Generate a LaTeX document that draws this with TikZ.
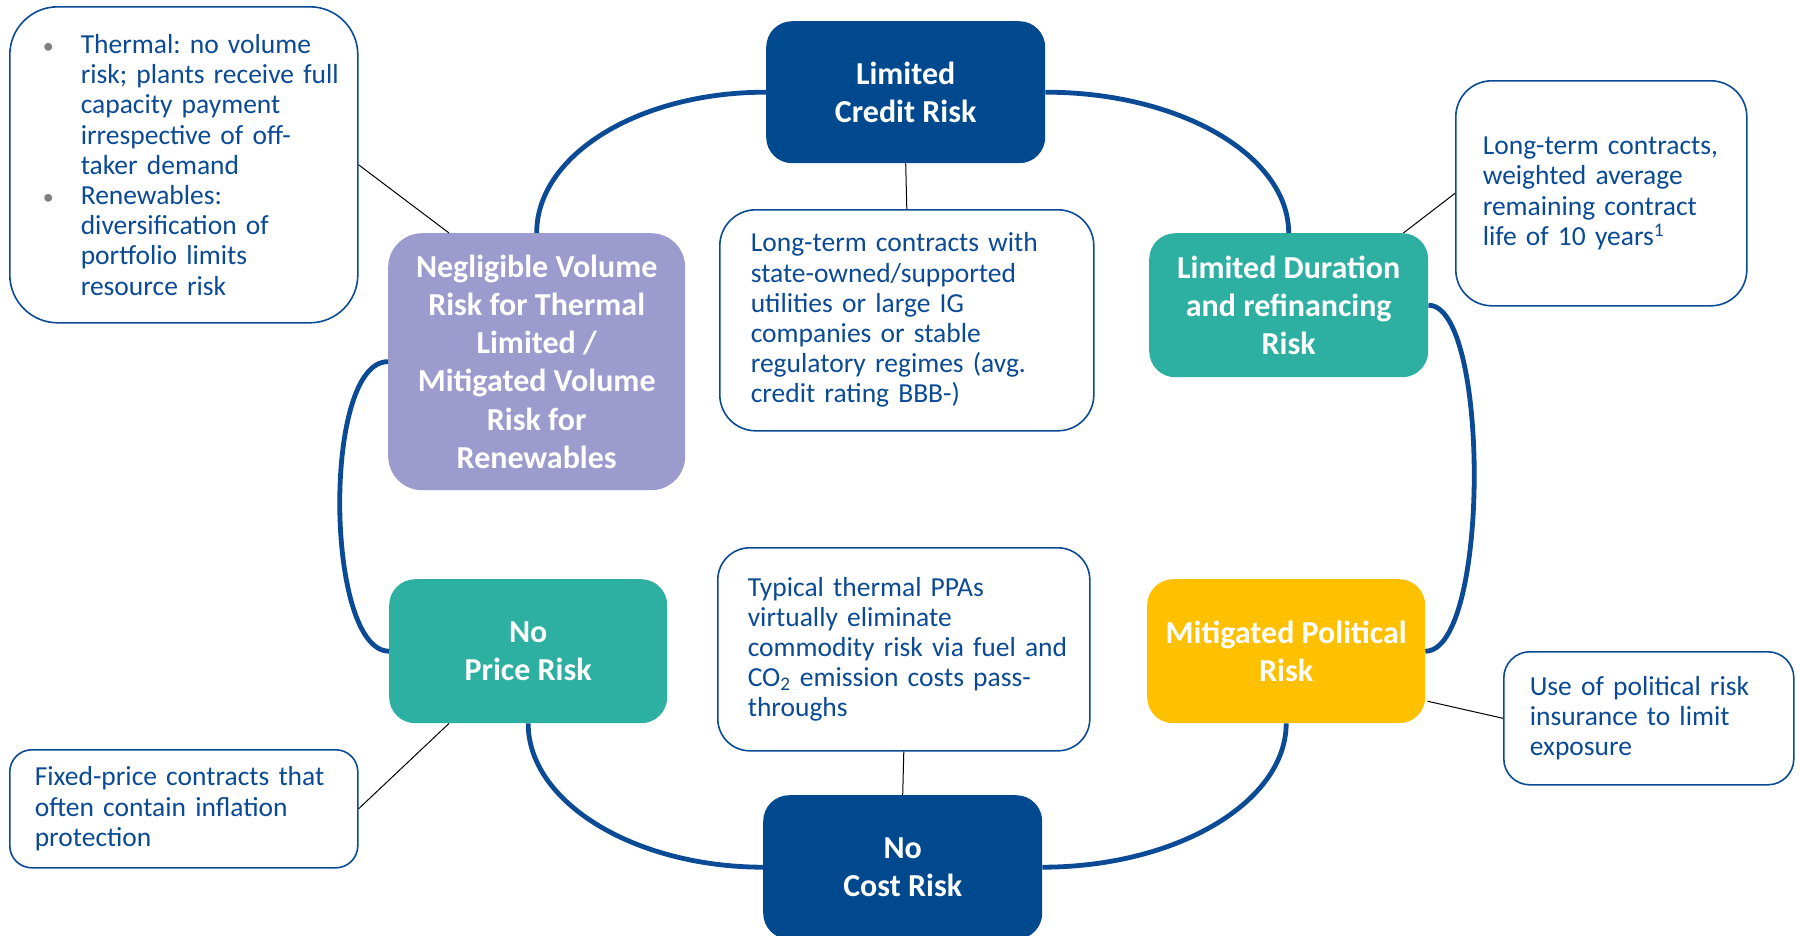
\documentclass[tikz,border=0pt]{standalone}
\usepackage{fontspec}
\setmainfont{Carlito}
\frenchspacing
\usetikzlibrary{calc}
\definecolor{navy}{HTML}{00498F}
\definecolor{teal2}{HTML}{2DAFA2}
\definecolor{lav}{HTML}{9B9BCD}
\definecolor{gold}{HTML}{FFC000}
\definecolor{txtblue}{HTML}{0B4A94}
\definecolor{arcblue}{HTML}{0B4A94}
\definecolor{bulgrey}{HTML}{7F7F7F}
\tikzset{
  riskbox/.style={rectangle, rounded corners=26pt, draw=none, text=white, align=center,
    font=\fontsize{32}{38.3}\selectfont\bfseries\frenchspacing, inner sep=0pt, anchor=north west},
  notebox/.style={rectangle, draw=txtblue, line width=1.6pt, fill=white, text=txtblue,
    align=left, font=\fontsize{27.5}{30.2}\selectfont\frenchspacing, inner ysep=0pt, anchor=north west},
  loop/.style={draw=arcblue, line width=4.8pt},
  tie/.style={draw=black, line width=1pt},
}
\newcommand{\bul}{\makebox[38pt][l]{\textcolor{bulgrey}{\fontsize{22}{30}\selectfont\textbullet}}}
\newcommand{\oneline}[1]{\mbox{#1}}
\begin{document}
\begin{tikzpicture}[x=1pt,y=-1pt]
\useasboundingbox (0,0) rectangle (1800,935);
% risk boxes
\node[riskbox, fill=navy, minimum width=279pt, minimum height=142pt] (credit) at (766,21) {Limited\\Credit Risk};
\node[riskbox, fill=lav, minimum width=297pt, minimum height=257pt, rounded corners=34pt] (neg) at (388,233) {Negligible Volume\\Risk for Thermal\\Limited /\\Mitigated Volume\\Risk for\\Renewables};
\node[riskbox, fill=teal2, minimum width=279pt, minimum height=144pt] (dur) at (1149,233) {Limited Duration\\and refinancing\\Risk};
\node[riskbox, fill=teal2, minimum width=278pt, minimum height=144pt] (price) at (389,579) {No\\Price Risk};
\node[riskbox, fill=gold, minimum width=278pt, minimum height=144pt] (pol) at (1147,579) {Mitigated Political\\Risk};
\node[riskbox, fill=navy, minimum width=279pt, minimum height=144pt] (cost) at (763,795) {No\\Cost Risk};
% note boxes
\node[notebox, rounded corners=48pt, minimum width=348pt, minimum height=316pt, text width=318pt, inner xsep=15pt] (vnote) at (9,6)
 {\hspace*{18pt}\bul\oneline{Thermal: no volume}\\
  \hspace*{56pt}\oneline{risk; plants receive full}\\
  \hspace*{56pt}\oneline{capacity payment}\\
  \hspace*{56pt}\oneline{irrespective of off-}\\
  \hspace*{56pt}\oneline{taker demand}\\
  \hspace*{18pt}\bul\oneline{Renewables:}\\
  \hspace*{56pt}\oneline{diversification of}\\
  \hspace*{56pt}\oneline{portfolio limits}\\
  \hspace*{56pt}\oneline{resource risk}};
\node[notebox, rounded corners=36pt, minimum width=374pt, minimum height=221pt, text width=312pt, inner xsep=31pt] (cnote) at (719,209)
 {\oneline{Long-term contracts with}\\\oneline{state-owned/supported}\\\oneline{utilities or large IG}\\\oneline{companies or stable}\\\oneline{regulatory regimes (avg.}\\\oneline{credit rating BBB-)}};
\node[notebox, rounded corners=36pt, minimum width=291pt, minimum height=225pt, text width=237pt, inner xsep=27pt] (dnote) at (1455,80)
 {\oneline{Long-term contracts,}\\\oneline{weighted average}\\\oneline{remaining contract}\\\oneline{life of 10 years\textsuperscript{1}}};
\node[notebox, rounded corners=32pt, minimum width=372pt, minimum height=203pt, text width=312pt, inner xsep=30pt] (pnote) at (717,547)
 {\oneline{Typical thermal PPAs}\\\oneline{virtually eliminate}\\\oneline{commodity risk via fuel and}\\\oneline{CO\textsubscript{2} emission costs pass-}\\\oneline{throughs}};
\node[notebox, rounded corners=26pt, minimum width=290pt, minimum height=133pt, text width=238pt, inner xsep=26pt] (onote) at (1503,651)
 {\oneline{Use of political risk}\\\oneline{insurance to limit}\\\oneline{exposure}};
\node[notebox, rounded corners=22pt, minimum width=348pt, minimum height=118pt, text width=298pt, inner xsep=25pt] (fnote) at (9,749)
 {\oneline{Fixed-price contracts that}\\\oneline{often contain inflation}\\\oneline{protection}};
% loop connectors
\draw[loop] (credit.west) .. controls (639,92) and (536.5,155) .. (neg.north);
\draw[loop] (credit.east) .. controls (1179,92) and (1288.5,155) .. (dur.north);
\draw[loop] (dur.east) .. controls (1490,305) and (1490,651) .. (pol.east);
\draw[loop] (neg.west) .. controls (322,361) and (325,651) .. (price.west);
\draw[loop] (price.south) .. controls (528,802) and (634,867) .. (cost.west);
\draw[loop] (pol.south) .. controls (1286,802) and (1177,867) .. (cost.east);
% ties
\draw[tie] (credit.south) -- (cnote.north);
\draw[tie] (pnote.south) -- (cost.north);
\draw[tie] (vnote.east) -- ($(neg.north west)+(61,0)$);
\draw[tie] (dnote.west) -- ($(dur.north east)+(-25,0)$);
\draw[tie] ($(pol.east)+(2,50)$) -- (onote.west);
\draw[tie] (fnote.east) -- ($(price.south west)+(60,0)$);
\end{tikzpicture}
\end{document}
